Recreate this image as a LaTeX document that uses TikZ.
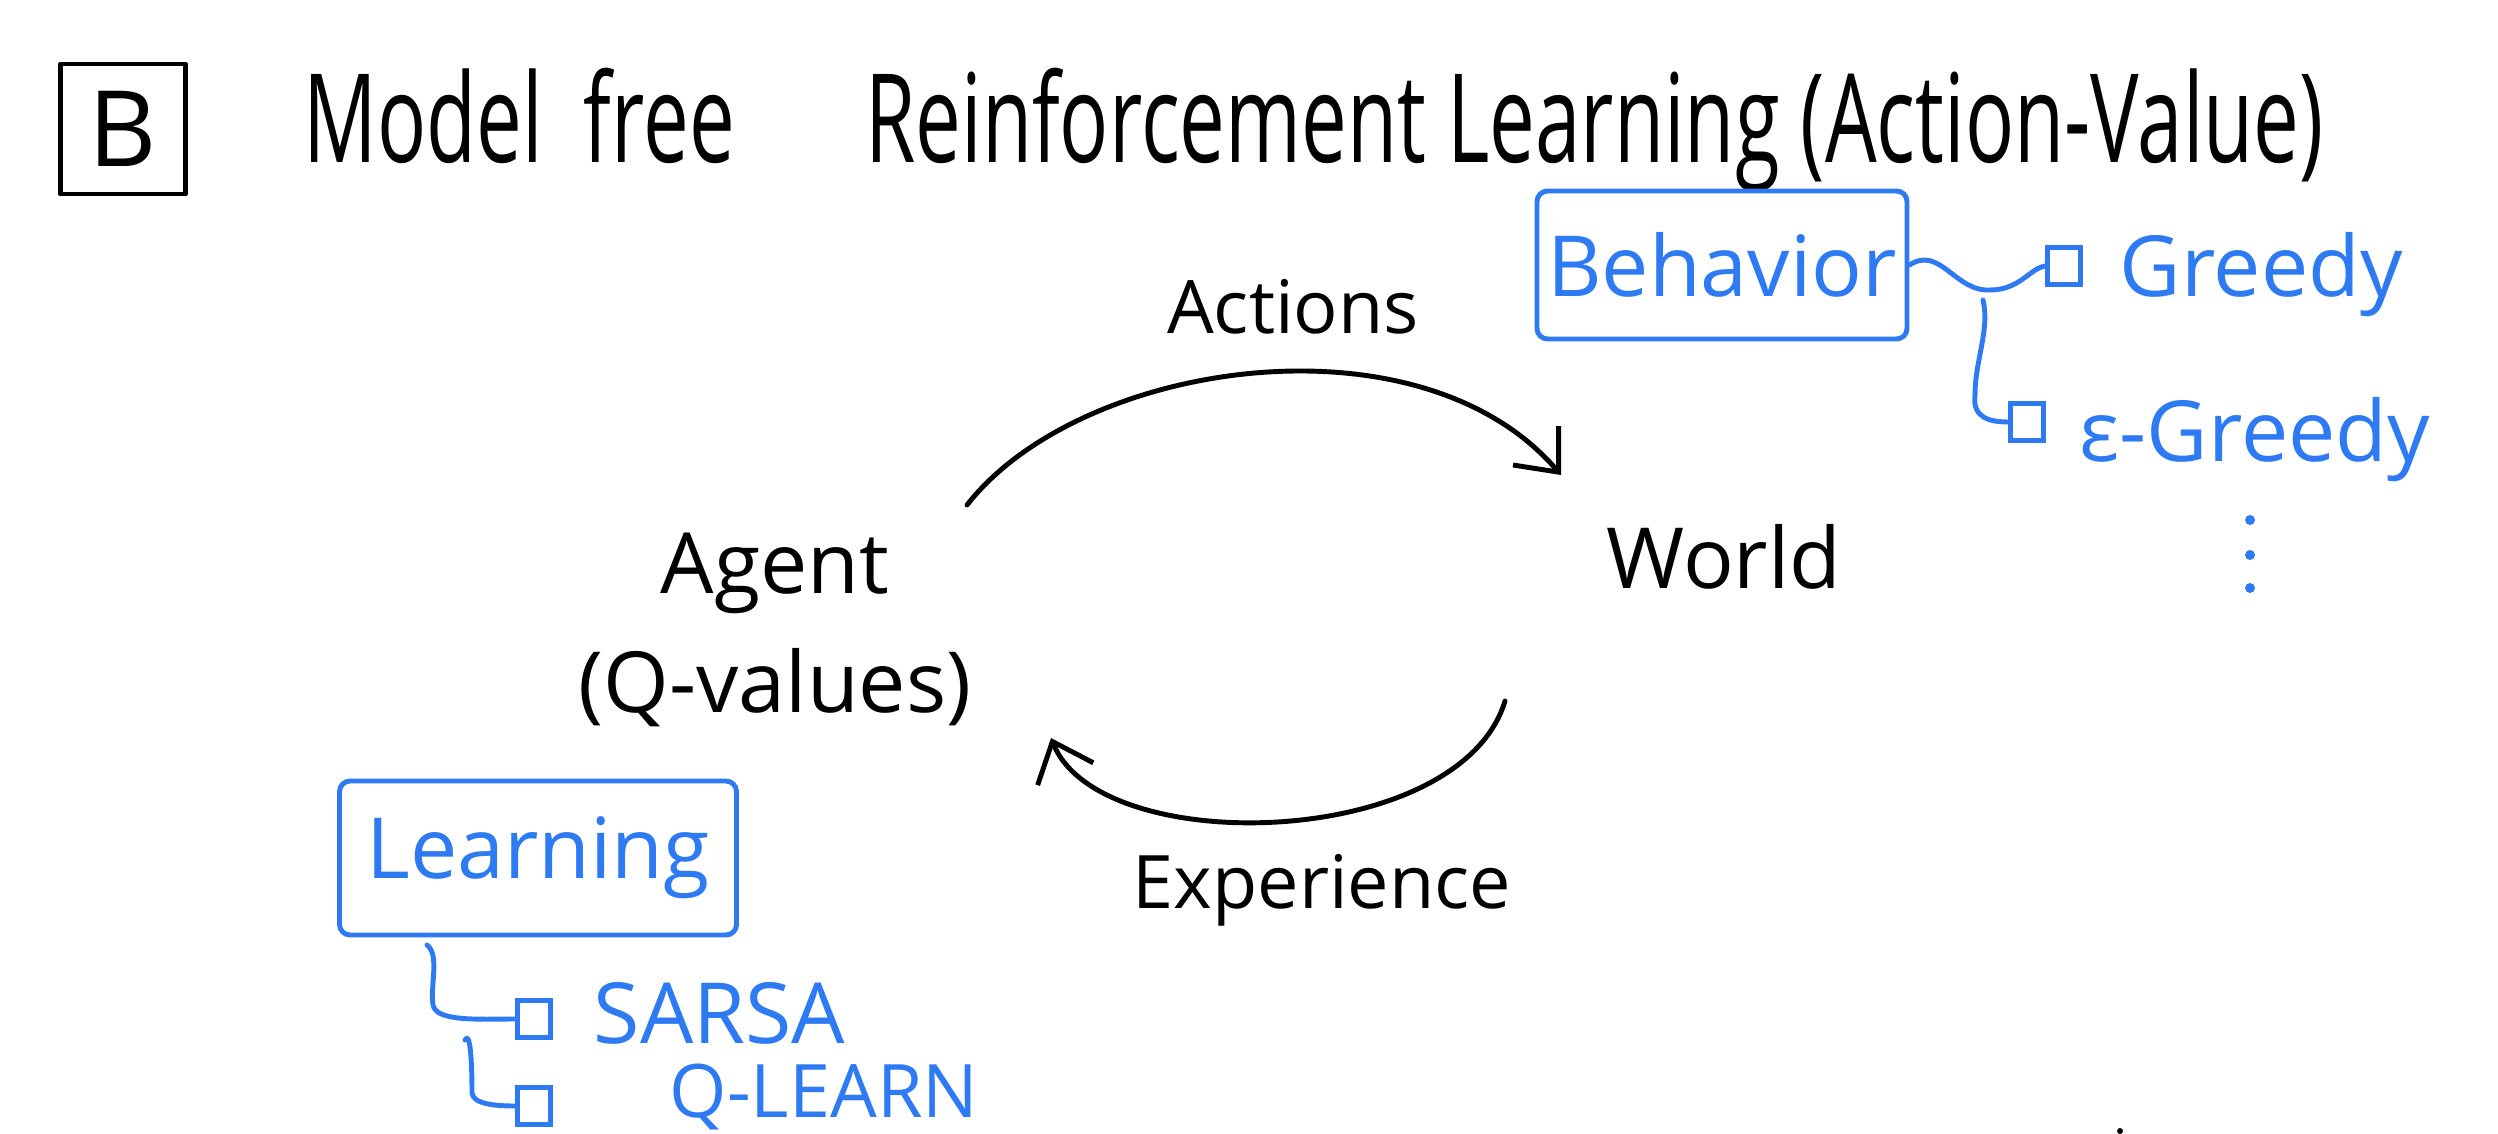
\documentclass[tikz,border=0pt]{standalone}
\usepackage{fontspec}
\setmainfont{Open Sans}
\usetikzlibrary{arrows.meta,calc}
\definecolor{penblue}{RGB}{46,122,242}
\begin{document}
\begin{tikzpicture}[x=0.1mm,y=-0.1mm,
  ink/.style={line width=1.4pt, line cap=round, line join=round},
  bink/.style={ink, draw=penblue},
  lbl/.style={font=\fontsize{24}{30}\selectfont, inner sep=0pt},
  blbl/.style={lbl, text=penblue},
  cbox/.style={draw=penblue, line width=1.2pt, minimum width=3.3mm, minimum height=3.7mm, inner sep=0pt},
  barb/.style={-{Straight Barb[length=3.5mm,width=6mm,line width=1.4pt]}}
]
\useasboundingbox (0,0) rectangle (2498,1134);
% title
\node[draw, ink, minimum width=12.5mm, minimum height=13mm, font=\fontsize{30}{34}\selectfont] (bmark) at (123,129) {B};
\node[lbl, anchor=west] (title) at (303,130) {\scalebox{0.86}[1.3]{\fontsize{27}{30}\selectfont Model\hspace{0.5em}free\hspace{1.6em}Reinforcement Learning (Action-Value)}};
% agent / world
\node[lbl, align=center] (agent) at (775,630) {Agent\\[4pt](Q-values)};
\node[lbl] (world) at (1724,557) {World};
\node[lbl, font=\fontsize{21}{26}\selectfont] (actions) at (1293,307) {Actions};
\node[lbl, font=\fontsize{21}{26}\selectfont] (exper) at (1322,890) {Experience};
\coordinate (ta) at (967,505);
\coordinate (tb) at (1561,475);
\draw[ink, barb] (ta) .. controls (1080,360) and (1420,310) .. (tb);
\coordinate (ba) at (1505,701);
\coordinate (bb) at (1051,738);
\draw[ink, barb] (ba) .. controls (1460,850) and (1100,860) .. (bb);
% behavior
\node[draw=penblue, line width=1.4pt, rounded corners=3pt, minimum width=37mm, minimum height=14.8mm, blbl] (beh) at (1722,265) {Behavior};
\node[cbox] (gc) at (2064,266) {};
\node[blbl, anchor=west] (greedy) at (2119,275) {Greedy};
\node[cbox] (ec) at (2027,422) {};
\node[blbl, anchor=west] (egreedy) at (2079,440) {ε-Greedy};
\coordinate (bw) at (1990,290);
\draw[bink] (beh.east) .. controls (1940,245) and (1955,292) .. (bw) .. controls (2020,290) and (2030,268) .. (gc.west);
\coordinate (bj) at (1983,300);
\coordinate (bk) at (1975,395);
\draw[bink] (bj) .. controls (1990,330) and (1975,360) .. (bk) .. controls (1972,418) and (1990,422) .. (ec.west);
\foreach \yy [count=\i] in {520,555,588} \fill[penblue] (2250,\yy) circle (5);
% learning
\node[draw=penblue, line width=1.4pt, rounded corners=3pt, minimum width=39.7mm, minimum height=15.4mm, blbl] (learn) at (538,858) {Learning};
\node[cbox] (sc) at (534,1019) {};
\node[blbl, anchor=west] (sarsa) at (593,1013) {SARSA};
\node[cbox] (qc) at (534,1106) {};
\node[blbl, anchor=base west, font=\fontsize{21}{26}\selectfont] (qlearn) at (669,1117) {Q-LEARN};
\coordinate (l1) at (427,945);
\coordinate (l2) at (433,1005);
\draw[bink] (l1) .. controls (440,955) and (430,985) .. (l2) .. controls (436,1022) and (480,1019) .. (sc.west);
\coordinate (m1) at (465,1040);
\coordinate (m2) at (472,1093);
\draw[bink] (m1) .. controls (470,1030) and (472,1060) .. (m2) .. controls (473,1104) and (495,1106) .. (qc.west);
\fill (2120,1131) circle (3);
\end{tikzpicture}
\end{document}
